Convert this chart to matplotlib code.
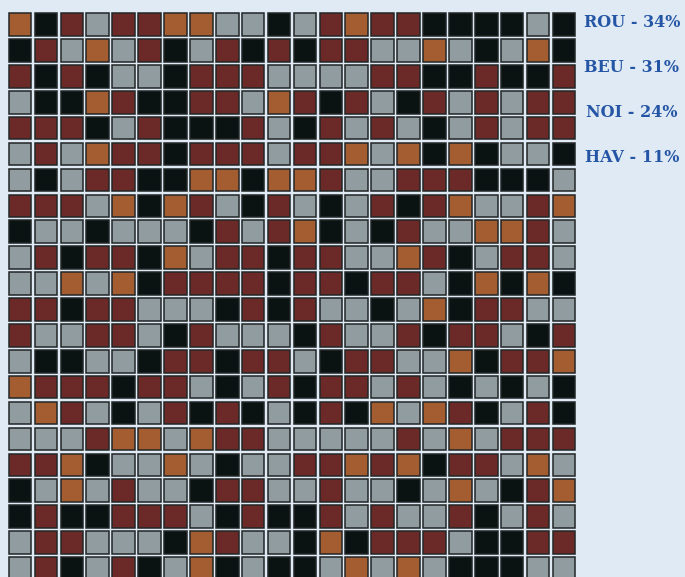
import matplotlib
matplotlib.use("Agg")
import matplotlib.pyplot as plt
from matplotlib.patches import Rectangle

# R = ROU, G = BEU, K = NOI, O = HAV
grid_rows = [
    "OKRGRROOGGKGRORRKKKKGK",
    "KRGOGRKGRKRKRRGGOGKGOK",
    "RKRKGGKRRRGGGGRRKKRKKR",
    "GKKORKKRRGORKRGKRGRGRR",
    "RRRKGRKKKRGKRGRGKGRGRR",
    "GRGORRKRRRGRROGOKOKGGK",
    "GKGRRKKOOKOORGGRRRKKKG",
    "RRRGOKORGKRGKGRKROGGRO",
    "KGGKGGGKRGROKGKRGGOORG",
    "GRKRRKOGRRKRRGGORKGRRG",
    "GGOGOKRRRRKRRKRRGKOKOK",
    "RRKRRGGGKRKRGGKGOKRRGG",
    "RGGRRGKRGGGKRGGRKRRGKR",
    "GKKGGKRRKRRGKRRGGOKRRO",
    "ORRRKRRGKGRKRRGRGKGKGK",
    "GORGKGRKRKGKRKOGORKGRK",
    "GGGROOGORRGGGGGRGOGRRR",
    "RROKGGOGKGGRROROKRRGOG",
    "KGOGRGGKRRGGRGGKGOGKRO",
    "KRKKRRRGKRKKRGRGGRKGRG",
    "GRRGGGKORGGKOKRRRGKKRR",
    "GRKGRKGOKGKKGOGOGKKKGG",
]

codes = ["R", "G", "K", "O"]
labels = ["ROU - 34%", "BEU - 31%", "NOI - 24%", "HAV - 11%"]
colors = {"R": "#6b2a28", "G": "#909c9f", "K": "#0b1212", "O": "#a35d31"}

bg = "#e0eaf4"
fig = plt.figure(figsize=(6.85, 5.77), dpi=100)
fig.patch.set_facecolor(bg)
ax = fig.add_axes([0, 0, 1, 1])
ax.set_facecolor(bg)

pitch = 25.9  # px per cell
x0, y0 = 8.8, 13.2  # top-left of first cell, px
ax.set_xlim(-x0 / pitch, (685 - x0) / pitch)
ax.set_ylim((577 - y0) / pitch, -y0 / pitch)
ax.axis("off")

size = 22.6 / pitch
for r, row in enumerate(grid_rows):
    for c, code in enumerate(row):
        ax.add_patch(Rectangle((c, r), size, size, facecolor=colors[code],
                               edgecolor="#222627", linewidth=1.1))

# legend text on the right
for i, lab in enumerate(labels):
    ax.text((632 - x0) / pitch, (22.5 + 45 * i - y0) / pitch, lab,
            ha="center", va="center", fontsize=11.5, fontweight="bold",
            family="DejaVu Serif", color="#2556a6")

fig.savefig("out.png", dpi=100, facecolor=bg)
